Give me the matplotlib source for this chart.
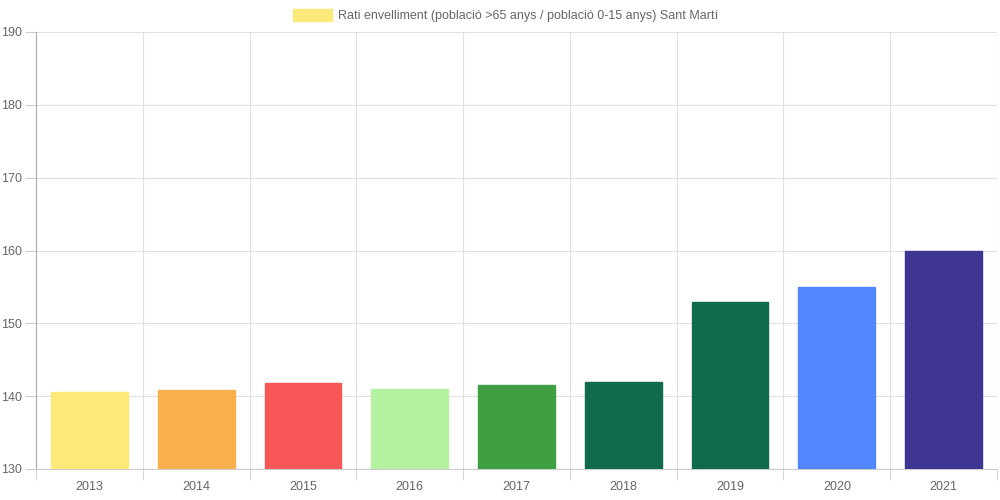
import numpy as np
import matplotlib.pyplot as plt

plt.rcParams['font.family'] = ['Liberation Sans', 'DejaVu Sans']

# Dades
anys = ['2013', '2014', '2015', '2016', '2017', '2018', '2019', '2020', '2021']
rati = [140.6, 140.9, 141.8, 140.95, 141.6, 142.0, 152.9, 154.95, 159.9]
colors = ['#FDE87A', '#F8B04C', '#F85757', '#B4F2A0', '#409F42',
          '#0F6B4B', '#0F6B4B', '#5286FC', '#3F3592']
etiqueta = 'Rati envelliment (població >65 anys / població 0-15 anys) Sant Martí'

fig = plt.figure(figsize=(10, 5), dpi=100)
ax = fig.add_axes([0.036, 0.062, 0.961, 0.874])

x = np.arange(len(anys))
ax.bar(x, rati, width=0.72, bottom=0, color=colors, edgecolor=colors,
       linewidth=1, zorder=3)

ax.set_xlim(-0.5, len(anys) - 0.5)
ax.set_ylim(130, 190)
ax.set_yticks(np.arange(130, 191, 10))
ax.set_xticks(x)
ax.set_xticklabels(anys)

# cuadrícula tipus Chart.js
ax.set_xticks(np.arange(-0.5, len(anys), 1), minor=True)
ax.grid(True, which='minor', axis='x', color='#e0e0e0', linewidth=0.8, zorder=0)
ax.grid(True, which='major', axis='y', color='#e0e0e0', linewidth=0.8, zorder=0)
ax.tick_params(axis='x', which='major', length=0, pad=9, labelsize=9, labelcolor='#666666')
ax.tick_params(axis='x', which='minor', length=8, color='#cccccc')
ax.tick_params(axis='y', length=8, color='#cccccc', labelsize=9, labelcolor='#666666', pad=2)

for s in ['top', 'right']:
    ax.spines[s].set_visible(False)
ax.spines['left'].set_color('#aaaaaa')
ax.spines['bottom'].set_color('#cccccc')

# llegenda
fig.patches.append(plt.Rectangle((0.293, 0.958), 0.039, 0.024, transform=fig.transFigure,
                                 facecolor='#FDE87A', edgecolor='#FDE87A'))
fig.text(0.338, 0.969, etiqueta, fontsize=9, color='#666666', va='center', ha='left')

fig.savefig('out.png', dpi=100)
